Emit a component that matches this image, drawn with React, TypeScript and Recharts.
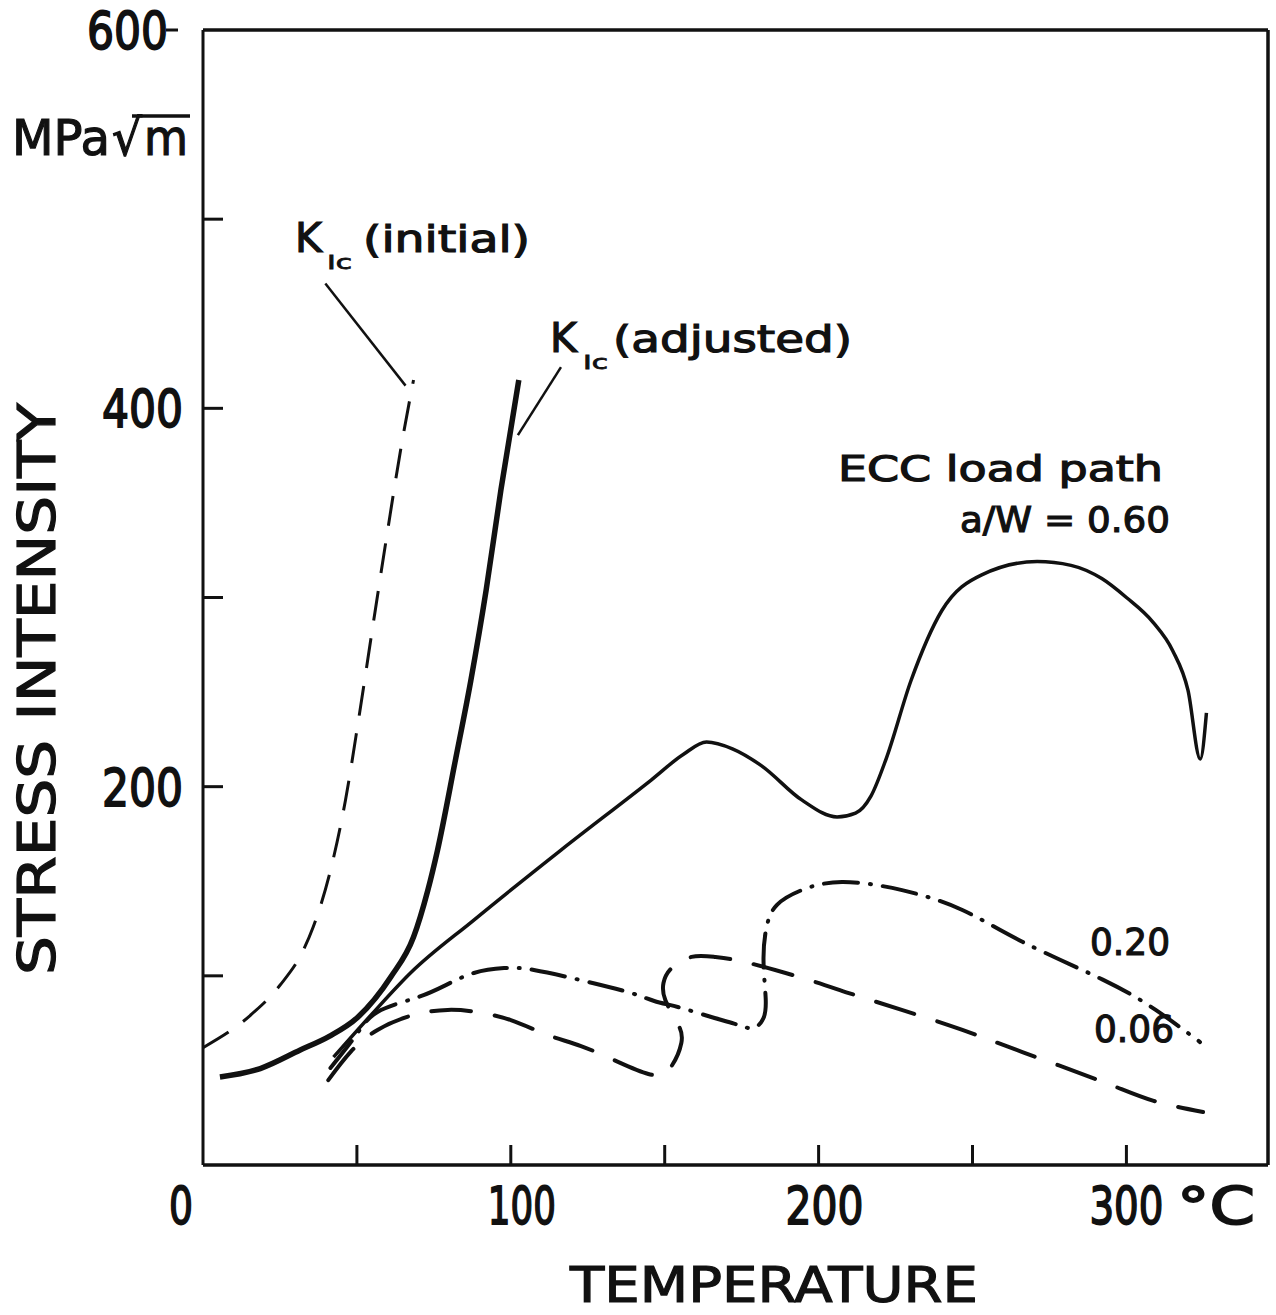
import React from "react";
import { LineChart, Line, XAxis, YAxis, ReferenceLine } from "recharts";

// K_Ic (initial) - dashed
const kicInitialT = [0, 15.3, 25, 32.6, 35.8, 42, 46.3, 50.5, 55, 60, 64.2, 68.4];
const kicInitialK = [62, 79, 95, 113.6, 125.8, 159.6, 193, 235, 283, 335.6, 378, 415];

// K_Ic (adjusted) - thick solid
const kicAdjT = [5.5, 18.6, 31.6, 41, 50.2, 61, 68.4, 73, 76.2, 82, 87, 92, 96.8, 102.6];
const kicAdjK = [46.5, 51, 60.8, 68, 78, 99.4, 120.5, 145, 166.5, 214, 256, 304, 357, 415];

// ECC load path a/W = 0.60
const ecc60T = [42.4, 55, 67.4, 88, 116.3, 145.6, 156, 163.6, 172, 181.5, 194.5, 206, 212, 217, 222, 230, 240, 253, 271, 282, 292, 300, 308.6, 315, 320, 324, 326];
const ecc60K = [57, 80, 101.5, 129.5, 166.5, 203.5, 217, 223.6, 220, 211, 193, 184, 186, 195, 215, 256, 293, 312, 319, 317, 310, 300, 287, 272, 251, 214.6, 239];

// a/W = 0.20 - dash dot
const ecc20T = [41.4, 49.5, 56.7, 69.1, 78.9, 88, 97.8, 107.5, 123.8, 139.1, 146.6, 155.4, 166.2, 174, 178.9, 182.1, 182.8, 182.1, 183.1, 186.4, 194.5, 207.6, 227.1, 246.7, 266.2, 292.3, 309.5, 323.9];
const ecc20K = [51.3, 68.2, 80.9, 88.3, 95.1, 101.5, 104.1, 103.1, 97.3, 90.9, 86.7, 83, 77.7, 74, 72.4, 77.7, 88.3, 108.4, 125.8, 137.4, 145.3, 149.6, 145.3, 134.8, 118, 98, 82, 65];

// a/W = 0.06 - dashed
const ecc06T = [40.7, 47.9, 56.7, 68.4, 79.5, 88.6, 100, 112, 122.8, 135, 144.7, 151.2, 155.4, 154.1, 150.2, 149.6, 152.2, 158.7, 166.2, 177.3, 196.8, 209.8, 227, 246.7, 266.2, 292.3, 308.6, 324.9];
const ecc06K = [44.9, 59.7, 71.4, 79.3, 82, 80.9, 76.6, 68.7, 62.9, 54.4, 48.1, 50.2, 64.5, 75, 87.2, 96.2, 104, 110, 110, 106.8, 97.8, 90.9, 82, 71.4, 59.7, 44, 34, 28];

const xTicks = [0, 50, 100, 150, 200, 250, 300];
const xTickLabels: Record<number, string> = { 0: "0", 100: "100", 200: "200", 300: "300" };
const yTicks = [100, 200, 300, 400, 500, 600];
const yTickLabels: Record<number, string> = { 200: "200", 400: "400", 600: "600" };

const toPoints = (t: number[], k: number[]) => t.map((T, i) => ({ T, K: k[i] }));

const PLOT_LEFT = 203;
const PLOT_RIGHT = 1268;
const PLOT_TOP = 30;
const PLOT_BOTTOM = 1165;
const TICK = 20;
const INK = "#111";
const FONT = "'DejaVu Sans', sans-serif";
const DIGIT_EM = 0.636; // DejaVu Sans digit advance

// centre offset from tick, target width, natural width (em)
const xLabelStyle: Record<number, { cx: number; w: number }> = {
  0: { cx: -22, w: 24 },
  100: { cx: 11, w: 68 },
  200: { cx: 6, w: 78 },
  300: { cx: 0, w: 74 },
};

// squeeze a label horizontally with a transform, so its box stays true
const Squeezed = ({ x, y, w, natural, size, children }: any) => (
  <text
    transform={`translate(${x} ${y}) scale(${w / natural} 1)`}
    fontFamily={FONT}
    fontSize={size}
    fill={INK}
    stroke={INK}
    strokeWidth={1.8}
  >
    {children}
  </text>
);

const BottomTick = (props: any) => {
  const { x, payload } = props;
  const v = payload.value as number;
  const lab = xTickLabels[v];
  const st = xLabelStyle[v];
  return (
    <g>
      {v > 0 && (
        <line x1={x} x2={x} y1={PLOT_BOTTOM} y2={PLOT_BOTTOM - TICK} stroke={INK} strokeWidth={3} />
      )}
      {lab && (
        <Squeezed x={x + st.cx - st.w / 2} y={1224} w={st.w} natural={lab.length * DIGIT_EM * 52} size={52}>
          {lab}
        </Squeezed>
      )}
      {v === 300 && (
        <Squeezed x={1177} y={1224} w={78} natural={(0.5 + 0.698) * 52} size={52}>
          °C
        </Squeezed>
      )}
    </g>
  );
};

const TopTick = (props: any) => {
  const { x, payload } = props;
  if (payload.value <= 0) return null;
  return <line x1={x} x2={x} y1={PLOT_TOP} y2={PLOT_TOP + TICK} stroke={INK} strokeWidth={3} />;
};

const LeftTick = (props: any) => {
  const { y, payload } = props;
  const v = payload.value as number;
  const lab = yTickLabels[v];
  const right = v === 600 ? 168 : 183;
  return (
    <g>
      {v < 600 && <line x1={PLOT_LEFT} x2={PLOT_LEFT + TICK} y1={y} y2={y} stroke={INK} strokeWidth={3} />}
      {v === 600 && <line x1={166} x2={178} y1={y} y2={y} stroke={INK} strokeWidth={3} />}
      {lab && (
        <Squeezed x={right - 81} y={y + 19} w={81} natural={lab.length * DIGIT_EM * 52} size={52}>
          {lab}
        </Squeezed>
      )}
    </g>
  );
};

const RightTick = (props: any) => {
  const { y, payload } = props;
  if (payload.value >= 600) return null;
  return <line x1={PLOT_RIGHT - TICK} x2={PLOT_RIGHT} y1={y} y2={y} stroke={INK} strokeWidth={3} />;
};

const leaderInitial = [{ x: 39.75, y: 466 }, { x: 65.8, y: 412 }];
const leaderAdjusted = [{ x: 116.3, y: 421.8 }, { x: 102.3, y: 385.8 }];

export default function App() {
  return (
    <div style={{ position: "absolute", left: 0, top: 0, width: 1276, height: 1315, background: "#fff" }}>
      <LineChart width={1276} height={1315} margin={{ top: 0, right: 0, bottom: 0, left: 0 }}>
        <XAxis
          xAxisId={0}
          type="number"
          dataKey="T"
          domain={[0, 346]}
          ticks={xTicks}
          interval={0}
          height={150}
          tickLine={false}
          axisLine={{ stroke: INK, strokeWidth: 3.5 }}
          tick={<BottomTick />}
        />
        <XAxis
          xAxisId="top"
          orientation="top"
          type="number"
          dataKey="T"
          domain={[0, 346]}
          ticks={xTicks}
          interval={0}
          height={PLOT_TOP}
          tickLine={false}
          axisLine={{ stroke: INK, strokeWidth: 3.5 }}
          tick={<TopTick />}
        />
        <YAxis
          yAxisId={0}
          type="number"
          domain={[0, 600]}
          ticks={yTicks}
          interval={0}
          width={PLOT_LEFT}
          tickLine={false}
          axisLine={{ stroke: INK, strokeWidth: 3 }}
          tick={<LeftTick />}
        />
        <YAxis
          yAxisId="right"
          orientation="right"
          type="number"
          domain={[0, 600]}
          ticks={yTicks}
          interval={0}
          width={1276 - PLOT_RIGHT}
          tickLine={false}
          axisLine={{ stroke: INK, strokeWidth: 3.5 }}
          tick={<RightTick />}
        />

        <Line
          data={toPoints(kicInitialT, kicInitialK)}
          dataKey="K"
          type="monotone"
          stroke={INK}
          strokeWidth={3}
          strokeDasharray="30 18"
          dot={false}
          isAnimationActive={false}
        />
        <Line
          data={toPoints(kicAdjT, kicAdjK)}
          dataKey="K"
          type="monotone"
          stroke={INK}
          strokeWidth={5.5}
          dot={false}
          isAnimationActive={false}
        />
        <Line
          data={toPoints(ecc60T, ecc60K)}
          dataKey="K"
          type="monotone"
          stroke={INK}
          strokeWidth={3.5}
          dot={false}
          isAnimationActive={false}
        />
        <Line
          data={toPoints(ecc20T, ecc20K)}
          dataKey="K"
          type="natural"
          stroke={INK}
          strokeWidth={4}
          strokeLinecap="round"
          strokeDasharray="34 12 1 12"
          dot={false}
          isAnimationActive={false}
        />
        <Line
          data={toPoints(ecc06T, ecc06K)}
          dataKey="K"
          type="natural"
          stroke={INK}
          strokeWidth={4}
          strokeLinecap="round"
          strokeDasharray="40 24"
          dot={false}
          isAnimationActive={false}
        />

        <ReferenceLine segment={leaderInitial} stroke={INK} strokeWidth={2.5} ifOverflow="visible" />
        <ReferenceLine segment={leaderAdjusted} stroke={INK} strokeWidth={2.5} ifOverflow="visible" />

        <g fontFamily={FONT} fill={INK} stroke={INK} strokeWidth={1.2}>
          <text x={12} y={155} fontSize={50} textLength={98} lengthAdjust="spacingAndGlyphs">MPa</text>
          <text x={112} y={155} fontSize={50} textLength={30} lengthAdjust="spacingAndGlyphs">√</text>
          <text x={144} y={155} fontSize={50} textLength={44} lengthAdjust="spacingAndGlyphs">m</text>
          <line x1={132} x2={190} y1={116} y2={116} stroke={INK} strokeWidth={3.5} />
          <text
            x={0}
            y={0}
            fontSize={52}
            textAnchor="middle"
            transform="translate(55 689) rotate(-90)"
            textLength={572}
            lengthAdjust="spacingAndGlyphs"
          >
            STRESS  INTENSITY
          </text>
          <text x={570} y={1302} fontSize={50} textLength={408} lengthAdjust="spacingAndGlyphs">
            TEMPERATURE
          </text>

          <text x={295} y={252} fontSize={41}>K</text>
          <text x={327} y={269} fontSize={20} strokeWidth={0.8} textLength={25} lengthAdjust="spacingAndGlyphs">Ic</text>
          <text x={363} y={252} fontSize={38} textLength={167} lengthAdjust="spacingAndGlyphs">(initial)</text>

          <text x={550} y={352} fontSize={41}>K</text>
          <text x={583} y={369} fontSize={20} strokeWidth={0.8} textLength={25} lengthAdjust="spacingAndGlyphs">Ic</text>
          <text x={613} y={352} fontSize={38} textLength={239} lengthAdjust="spacingAndGlyphs">(adjusted)</text>

          <text x={838} y={481} fontSize={36} textLength={325} lengthAdjust="spacingAndGlyphs">ECC load path</text>
          <text x={960} y={532} fontSize={36} textLength={210} lengthAdjust="spacingAndGlyphs">a/W = 0.60</text>

          <text x={1090} y={955} fontSize={38} textLength={80} lengthAdjust="spacingAndGlyphs">0.20</text>
          <text x={1094} y={1042} fontSize={38} textLength={80} lengthAdjust="spacingAndGlyphs">0.06</text>
        </g>
      </LineChart>
    </div>
  );
}
